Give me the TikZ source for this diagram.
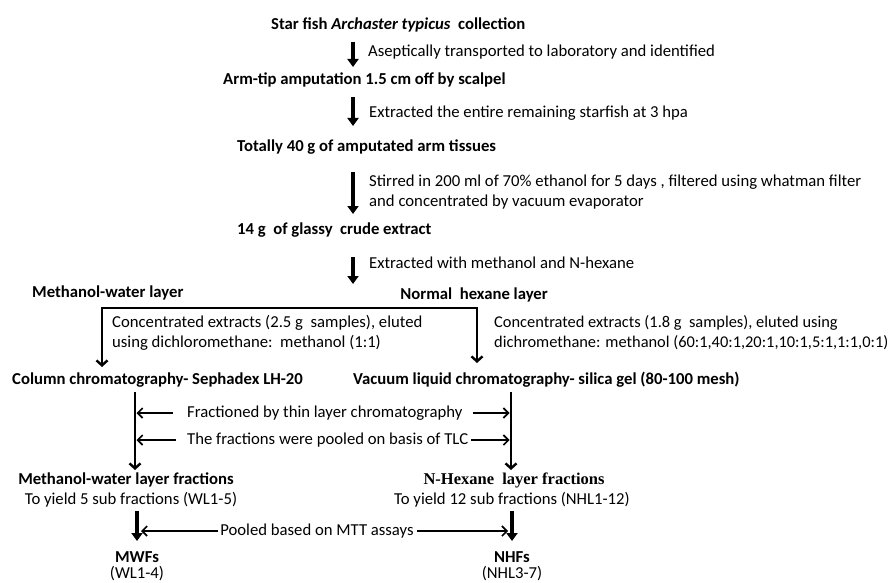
\documentclass[tikz,border=0pt]{standalone}
\usepackage{fontspec}
\setmainfont{Carlito}
\newfontfamily\tnr{Liberation Serif}
\usetikzlibrary{arrows.meta}
\tikzset{mybarb/.tip={Straight Barb[width=11pt,length=5pt]}}
\begin{document}
\begin{tikzpicture}[x=1pt,y=-1pt,
 txt/.style={font=\fontsize{16.7}{20}\selectfont, inner sep=0pt, anchor=west},
 btxt/.style={font=\fontsize{16.7}{20}\selectfont\bfseries, inner sep=0pt, anchor=west},
 ctxt/.style={font=\fontsize{16.7}{20}\selectfont, inner sep=0pt, anchor=center},
 cbtxt/.style={font=\fontsize{16.7}{20}\selectfont\bfseries, inner sep=0pt, anchor=center},
 heavy/.style={line width=4pt, -{Triangle[width=11pt,length=8pt]}},
 heavier/.style={line width=4.5pt, -{Triangle[width=11pt,length=8pt]}},
 bracket/.style={line width=2.4pt, line join=miter},
 thinarrow/.style={line width=1.6pt, -{Straight Barb[width=10pt,length=5pt]}},
]
\useasboundingbox (0,0) rectangle (896,583);

% main chain
\node[btxt] (n1) at (271,25) {Star fish \textit{Archaster typicus}\ \ collection};
\node[txt] (l1) at (368,52) {Aseptically transported to laboratory and identified};
\node[btxt] (n2) at (223,80) {Arm-tip amputation 1.5 cm off by scalpel};
\node[txt] (l2) at (369,113) {Extracted the entire remaining starfish at 3 hpa};
\node[btxt] (n3) at (237,147) {Totally 40 g of amputated arm tissues};
\node[txt, align=left] (l3) at (369,192) {Stirred in 200 ml of 70\% ethanol for 5 days , filtered using whatman filter\\and concentrated by vacuum evaporator};
\node[btxt] (n4) at (237,230) {14 g\ \ of glassy\ \ crude extract};
\node[txt] (l4) at (369,263) {Extracted with methanol and N-hexane};

\coordinate (a1s) at (353,42);  \coordinate (a1e) at (353,67);
\coordinate (a2s) at (353,97);  \coordinate (a2e) at (353,126);
\coordinate (a3s) at (353,172); \coordinate (a3e) at (353,214);
\coordinate (a4s) at (353,257); \coordinate (a4e) at (353,284);
\draw[heavy] (a1s) -- (a1e);
\draw[heavy] (a2s) -- (a2e);
\draw[heavy] (a3s) -- (a3e);
\draw[heavy] (a4s) -- (a4e);

% split
\node[btxt] (n5) at (32,293) {Methanol-water layer};
\node[btxt, anchor=east] (n6) at (548,295) {Normal\ \ hexane layer};
\coordinate (bl) at (102,367);
\coordinate (blt) at (102,308);
\coordinate (brt) at (477,308);
\coordinate (br) at (477,363);
\draw[bracket, mybarb-mybarb] (bl) -- (blt) -- (brt) -- (br);

\node[txt, align=left] (l5) at (112,333) {Concentrated extracts (2.5 g\ \ samples), eluted\\using dichloromethane:\ \ methanol (1:1)};
\node[txt, align=left, font=\fontsize{16.4}{20}\selectfont] (l6) at (494,333) {Concentrated extracts (1.8 g\ \ samples), eluted using\\dichromethane: methanol (60:1,40:1,20:1,10:1,5:1,1:1,0:1)};

\node[btxt] (n7) at (12,380) {Column chromatography- Sephadex LH-20};
\node[btxt] (n8) at (353,380) {Vacuum liquid chromatography- silica gel (80-100 mesh)};

% fractionation columns
\coordinate (cls) at (135,392); \coordinate (cle) at (135,470);
\coordinate (crs) at (511,392); \coordinate (cre) at (511,470);
\draw[line width=2.4pt, -mybarb] (cls) -- (cle);
\draw[line width=2.4pt, -mybarb] (crs) -- (cre);

\node[txt] (l7) at (187,413) {Fractioned by thin layer chromatography};
\node[txt] (l8) at (187,440) {The fractions were pooled on basis of TLC};
\coordinate (f1l) at (136.5,413); \coordinate (f1r) at (509.5,413);
\coordinate (f2l) at (136.5,440); \coordinate (f2r) at (509.5,440);
\draw[thinarrow] ([xshift=-14pt]l7.west) -- (f1l);
\draw[thinarrow] ([xshift=10pt]l7.east) -- (f1r);
\draw[thinarrow] ([xshift=-11pt]l8.west) -- (f2l);
\draw[thinarrow] ([xshift=3pt]l8.east) -- (f2r);

% fractions
\node[cbtxt] (n9) at (126,480) {Methanol-water layer fractions};
\node[ctxt] (l9) at (131,500) {To yield 5 sub fractions (WL1-5)};
\node[font=\fontsize{16.5}{20}\selectfont\tnr\bfseries, inner sep=0pt] (n10) at (514,480) {N-Hexane\ \ layer fractions};
\node[ctxt] (l10) at (512,500) {To yield 12 sub fractions (NHL1-12)};

\coordinate (m1s) at (137,511); \coordinate (m1e) at (137,541);
\coordinate (m2s) at (512,511); \coordinate (m2e) at (512,541);
\draw[heavier] (m1s) -- (m1e);
\draw[heavier] (m2s) -- (m2e);

\node[ctxt] (l11) at (317,531) {Pooled based on MTT assays};
\coordinate (p1) at (141,531); \coordinate (p2) at (508,531);
\draw[thinarrow] ([xshift=-2pt]l11.west) -- (p1);
\draw[thinarrow] ([xshift=3pt]l11.east) -- (p2);

\node[cbtxt] (n11) at (137,557) {MWFs};
\node[ctxt] (l12) at (137,574) {(WL1-4)};
\node[cbtxt] (n12) at (512,557) {NHFs};
\node[ctxt] (l13) at (512,574) {(NHL3-7)};
\end{tikzpicture}
\end{document}
